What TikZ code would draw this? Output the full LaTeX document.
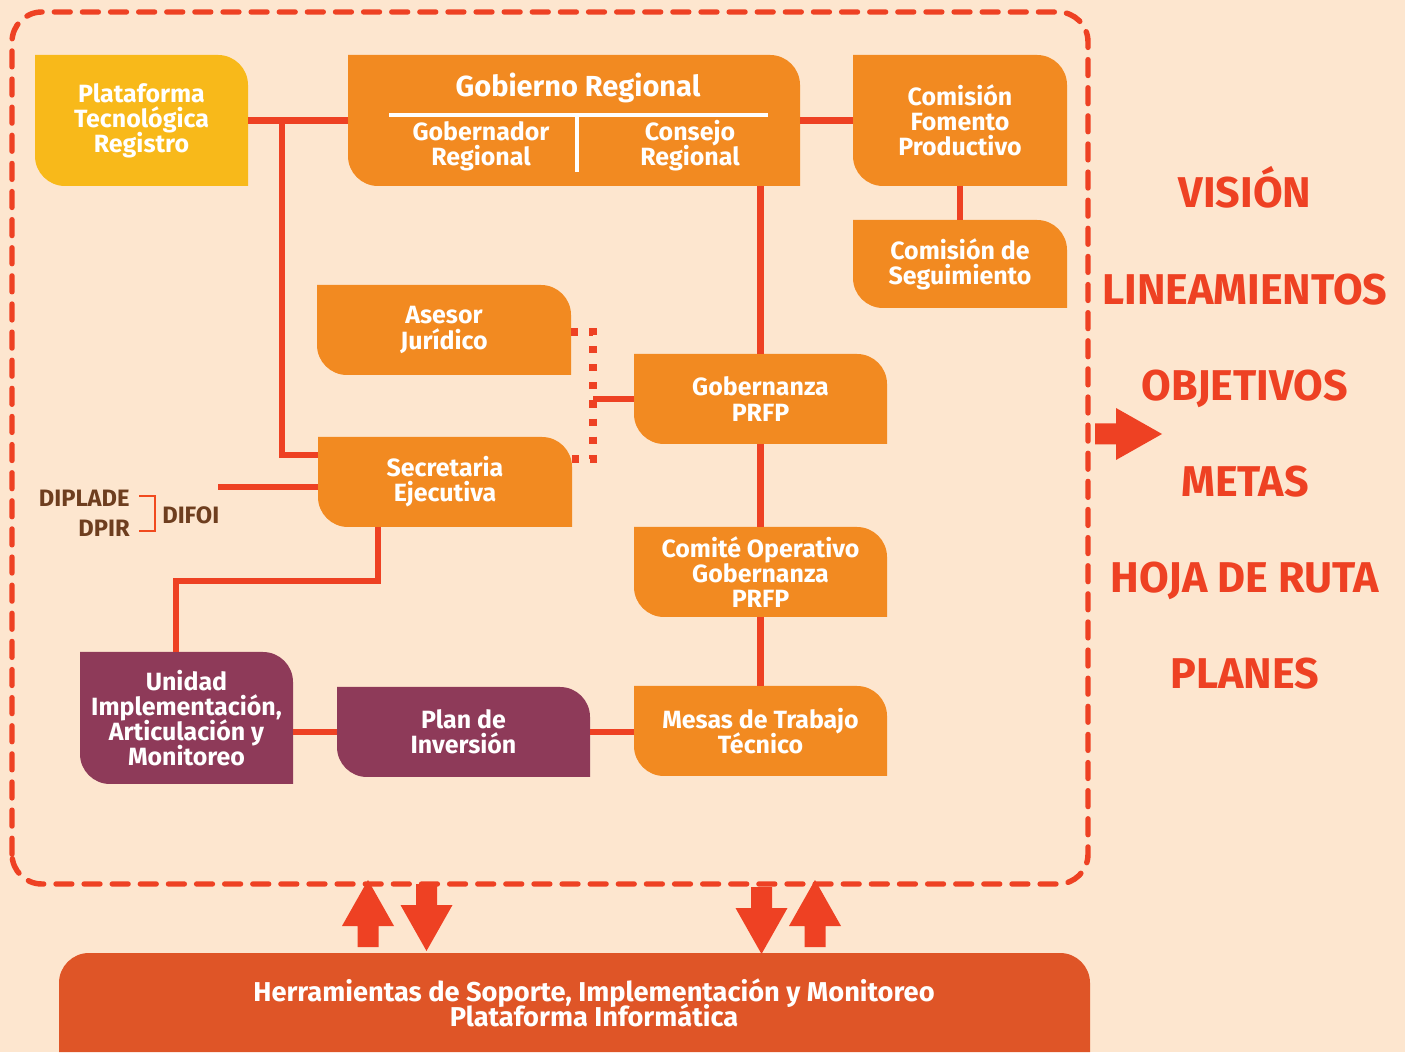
\documentclass[tikz,border=0pt]{standalone}
\usepackage{fontspec}
\setmainfont{Fira Sans}
\usepackage{xcolor}
\definecolor{cream}{HTML}{FDE6CF}
\definecolor{linkred}{HTML}{EE4123}
\definecolor{orng}{HTML}{F28A21}
\definecolor{yell}{HTML}{F8B91A}
\definecolor{maroon}{HTML}{8E3A59}
\definecolor{barfill}{HTML}{DF5527}
\definecolor{brwn}{HTML}{6E3E1F}
\usetikzlibrary{calc}
\setlength{\lineskiplimit}{-20pt}
\tikzset{
  link/.style={draw=linkred,line width=3.6pt},
  dotlink/.style={draw=linkred,line width=4pt,dash pattern=on 4pt off 6.3pt},
  frame/.style={draw=linkred,line width=3.1pt,dash pattern=on 9pt off 7pt,line cap=round,rounded corners=17pt},
  boxtext/.style={text=white,font=\bfseries\fontsize{14.2}{14.3}\selectfont,align=center,inner sep=0pt,outer sep=0pt},
  divider/.style={draw=white,line width=2.4pt},
  sidetext/.style={text=linkred,font=\bfseries\fontsize{24.5}{28}\selectfont,anchor=base},
  deptext/.style={text=brwn,font=\bfseries\fontsize{13.5}{14}\selectfont,inner sep=0pt},
  bracket/.style={draw=linkred!85!orange,line width=1.1pt},
  fatarrow/.pic={\fill[linkred] (-10.5,0) -- (-10.5,21) -- (-26,21) -- (0,67) -- (26,21) -- (10.5,21) -- (10.5,0) -- cycle;},
}
% leaf shaped box: name, fill, left, top, right, bottom, text
\newcommand\leafbox[7]{%
  \fill[#2] (#3,#4) -- ({#5-30},#4) arc[start angle=90,end angle=0,radius=30]
    -- (#5,#6) -- ({#3+30},#6) arc[start angle=270,end angle=180,radius=30] -- cycle;
  \node[boxtext,minimum width={(#5-#3)*0.2mm},minimum height={(#4-#6)*0.2mm}]
    (#1) at ({(#3+#5)/2},{(#4+#6)/2}) {#7};}

\begin{document}
\begin{tikzpicture}[x=0.2mm,y=0.2mm]
\useasboundingbox (0,0) rectangle (1405,1052);
\fill[cream] (0,0) rectangle (1405,1052);

% dashed frame
\draw[frame] (12,168) rectangle (1088,1040);

% boxes
\leafbox{plat}{yell}{35}{997}{248}{866}{Plataforma\\Tecnológica\\Registro}
\leafbox{gob}{orng}{348}{997}{800}{866}{}
\leafbox{fom}{orng}{853}{997}{1067}{866}{Comisión\\Fomento\\Productivo}
\leafbox{seg}{orng}{853}{832}{1067}{744}{Comisión de\\Seguimiento}
\leafbox{ases}{orng}{317}{767}{571}{677}{Asesor\\Jurídico}
\leafbox{gobz}{orng}{634}{698}{887}{608}{Gobernanza\\PRFP}
\leafbox{secr}{orng}{318}{615}{572}{525}{Secretaria\\Ejecutiva}
\leafbox{comite}{orng}{634}{525}{887}{435}{Comité Operativo\\Gobernanza\\PRFP}
\leafbox{unidad}{maroon}{80}{400}{293}{268}{Unidad\\Implementación,\\Articulación y\\Monitoreo}
\leafbox{plan}{maroon}{337}{365}{590}{275}{Plan de\\Inversión}
\leafbox{mesas}{orng}{634}{366}{887}{276}{Mesas de Trabajo\\Técnico}

% inside Gobierno Regional
\node[boxtext,font=\bfseries\fontsize{16.5}{19}\selectfont] (gobT) at (578,964) {Gobierno Regional};
\node[boxtext] (gobG) at (481,906) {Gobernador\\Regional};
\node[boxtext] (gobC) at (690,906) {Consejo\\Regional};
\draw[divider] (389,937) -- (768,937);
\draw[divider] (577,937) -- (577,880);

% connectors
\coordinate (jA) at (282,931.5);
\coordinate (jB) at (282,597);
\coordinate (kA) at (378,471);
\coordinate (kB) at (176,471);
\coordinate (dTop) at (593,720);
\coordinate (dBot) at (593,593);
\coordinate (difoiEnd) at (218,565);
\draw[link] (plat.east) -- (gob.west);
\draw[link] (jA) -- (jB) -- (jB -| secr.west);
\draw[link] (difoiEnd) -- (difoiEnd -| secr.west);
\draw[link] (gob.east) -- (fom.west);
\draw[link] (fom.south) -- (seg.north);
\draw[link] (gobz.north |- gob.south) -- (gobz.north);
\draw[link] (gobz.south) -- (comite.north);
\draw[link] (comite.south) -- (mesas.north);
\draw[link] (mesas.west |- plan.east) -- (plan.east);
\draw[link] (plan.west) -- (plan.west -| unidad.east);
\draw[link] (kA |- secr.south) -- (kA) -- (kB) -- (kB |- unidad.north);
\draw[dotlink] (dTop -| ases.east) -- (dTop) -- (dBot) -- (dBot -| secr.east);
\draw[link] (gobz.west) -- (gobz.west -| dTop);

% departments
\node[deptext,anchor=east] (diplade) at (130,554) {DIPLADE};
\node[deptext,anchor=east] (dpir) at (130,524) {DPIR};
\node[deptext,anchor=west] (difoi) at (162,537) {DIFOI};
\draw[bracket] (139,556) -- (155,556) -- (155,521) -- (139,521);

% right column
\node[sidetext] (vision) at (1245,844) {VISIÓN};
\node[sidetext] (lineam) at (1245,747) {LINEAMIENTOS};
\node[sidetext] (objet) at (1245,651) {OBJETIVOS};
\node[sidetext] (metas) at (1245,555) {METAS};
\node[sidetext] (hoja) at (1245,459) {HOJA DE RUTA};
\node[sidetext] (planes) at (1245,363) {PLANES};
\pic[rotate=-90] at (1095,618) {fatarrow};

% support bar
\fill[barfill] (59,0) -- (59,69) arc[start angle=180,end angle=90,radius=30]
  -- (1060,99) arc[start angle=90,end angle=0,radius=30] -- (1090,0) -- cycle;
\node[boxtext,font=\bfseries\fontsize{15.5}{14.3}\selectfont] (tools) at (594,49) {Herramientas de Soporte, Implementación y Monitoreo\\Plataforma Informática};
\pic at (368,105) {fatarrow};
\pic[rotate=180] at (426.5,168) {fatarrow};
\pic[rotate=180] at (761.5,165) {fatarrow};
\pic at (815,105) {fatarrow};
\end{tikzpicture}
\end{document}
